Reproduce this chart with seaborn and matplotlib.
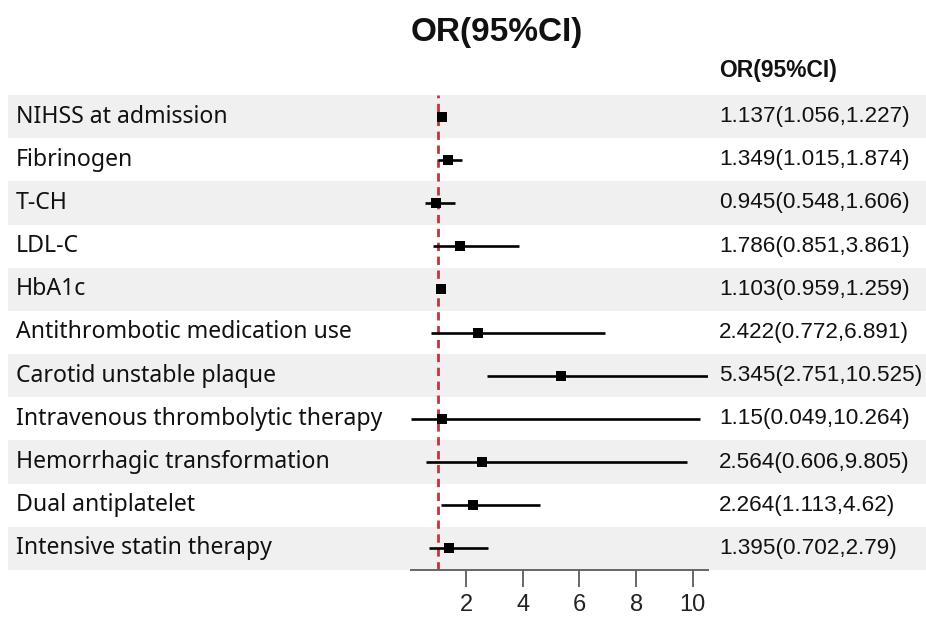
import matplotlib
matplotlib.use("Agg")
import matplotlib.pyplot as plt
import seaborn as sns
import pandas as pd

# Logistic regression results
variables = [
    "NIHSS at admission",
    "Fibrinogen",
    "T-CH",
    "LDL-C",
    "HbA1c",
    "Antithrombotic medication use",
    "Carotid unstable plaque",
    "Intravenous thrombolytic therapy",
    "Hemorrhagic transformation",
    "Dual antiplatelet",
    "Intensive statin therapy",
]
odds_ratio = [1.137, 1.349, 0.945, 1.786, 1.103, 2.422, 5.345, 1.15, 2.564, 2.264, 1.395]
ci_low = [1.056, 1.015, 0.548, 0.851, 0.959, 0.772, 2.751, 0.049, 0.606, 1.113, 0.702]
ci_high = [1.227, 1.874, 1.606, 3.861, 1.259, 6.891, 10.525, 10.264, 9.805, 4.62, 2.79]
x_ticks = [2, 4, 6, 8, 10]
reference_or = 1

df = pd.DataFrame({
    "variable": variables,
    "or": odds_ratio,
    "low": ci_low,
    "high": ci_high,
})
df["row"] = range(len(df))
df["label"] = [f"{o:g}({l:g},{h:g})" for o, l, h in zip(df["or"], df["low"], df["high"])]

sns.set_theme(style="white")
plt.rcParams["font.family"] = ["Liberation Sans", "DejaVu Sans"]

W, H = 926, 619
fig = plt.figure(figsize=(W / 100, H / 100), dpi=100)
fig.patch.set_facecolor("white")

n = len(df)
top_px, bottom_px = 95, 570
ax_left_px, ax_right_px = 410.7, 707.7

# full-width background axes carrying the row bands and the text columns
bg = fig.add_axes([8 / W, 1 - bottom_px / H, (W - 8) / W, (bottom_px - top_px) / H], zorder=0)
bg.set_xlim(0, 1)
bg.set_ylim(n - 0.5, -0.5)
bg.axis("off")
for r in df["row"]:
    if r % 2 == 0:
        bg.axhspan(r - 0.5, r + 0.5, color="#f0f0f0", lw=0)

def bgx(px):
    return (px - 8) / (W - 8)

for r, name, lab in zip(df["row"], df["variable"], df["label"]):
    bg.text(bgx(16), r, name, va="center", ha="left", fontsize=16.6,
            family=["Noto Sans", "DejaVu Sans"], fontweight="medium", color="#111111")
    bg.text(bgx(719), r, lab, va="center", ha="left", fontsize=16.2, color="#111111")

# forest plot axes
ax = fig.add_axes([ax_left_px / W, 1 - bottom_px / H, (ax_right_px - ax_left_px) / W,
                   (bottom_px - top_px) / H], zorder=1)
ax.patch.set_alpha(0)
ax.hlines(df["row"], df["low"], df["high"], color="black", lw=1.9, zorder=2)
sns.scatterplot(data=df, x="or", y="row", marker="s", s=55, color="black",
                linewidth=0, ax=ax, zorder=3, legend=False)
ax.axvline(reference_or, color="#C0343F", lw=2, ls=(0, (3, 2)), zorder=1)

ax.set_xlim(min(ci_low), max(ci_high))
ax.set_ylim(n - 0.5, -0.5)
ax.set_xticks(x_ticks)
ax.set_xticklabels([str(t) for t in x_ticks])
ax.set_yticks([])
ax.set_xlabel("")
ax.set_ylabel("")
for side in ["top", "right", "left"]:
    ax.spines[side].set_visible(False)
ax.spines["bottom"].set_color("#666666")
ax.spines["bottom"].set_linewidth(1.4)
ax.tick_params(axis="x", bottom=True, length=12, width=1.4, color="#666666",
               labelsize=17, labelcolor="#222222", pad=5)

fig.text(497 / W, 1 - 33 / H, "OR(95%CI)", ha="center", va="center",
         fontsize=24, fontweight="bold", color="#111111")
fig.text(719 / W, 1 - 71 / H, "OR(95%CI)", ha="left", va="center",
         fontsize=16.5, fontweight="bold", color="#111111")

fig.savefig("out.png", dpi=100, facecolor="white")
